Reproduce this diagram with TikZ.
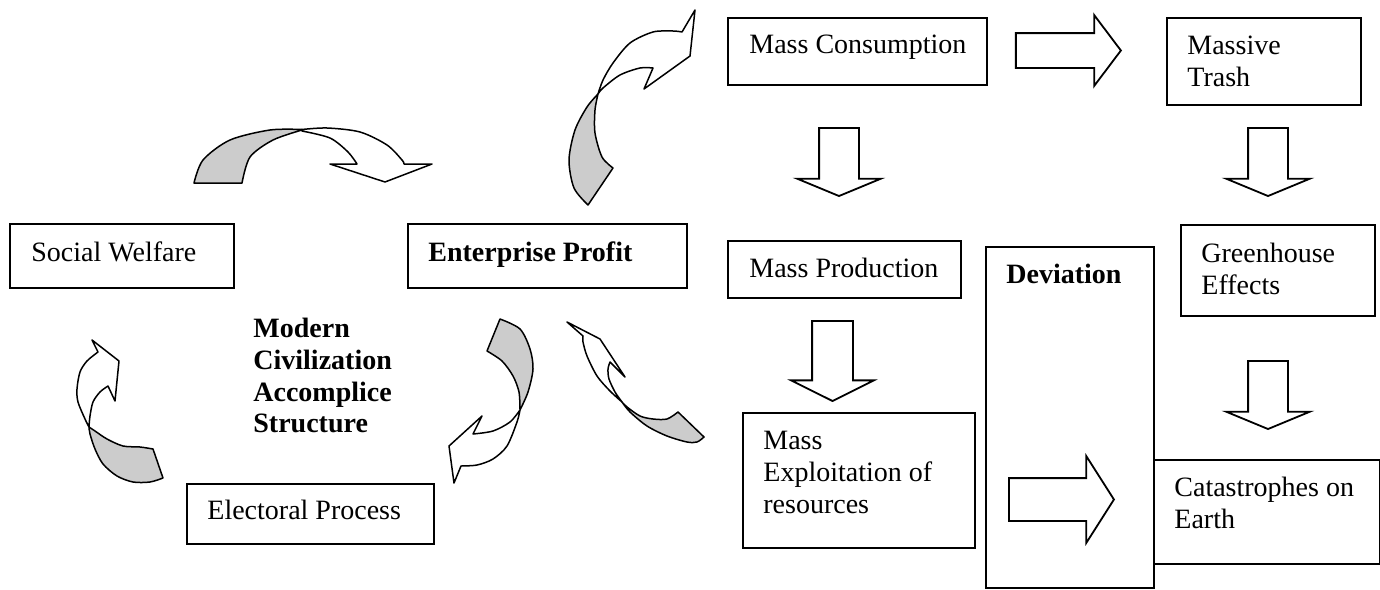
\documentclass[tikz,border=0pt]{standalone}
\usepackage{fontspec}
\setmainfont{Liberation Serif}
\usetikzlibrary{shapes.arrows}

\definecolor{twistgray}{gray}{0.8}

\tikzset{
  box/.style={draw, line width=1pt, inner sep=0pt, anchor=north west},
  boxtext/.style={anchor=north west, inner sep=0pt, align=left, font=\fontsize{14}{15.85}\selectfont},
  blockarrow/.style={single arrow, draw, line width=0.9pt, fill=white, single arrow head indent=0pt, anchor=tip},
  band/.style={draw, line width=0.75pt, line join=round},
}

\begin{document}
\begin{tikzpicture}[x=0.5pt, y=-0.5pt]
    \useasboundingbox (0,0) rectangle (1380,589);

    % Left cycle
    \node[box, minimum width=112pt, minimum height=32pt] (welfare) at (9,223) {};
    \node[boxtext] (welfareT) at ([xshift=11pt, yshift=-9pt]welfare.north west) {Social Welfare};
    \node[box, minimum width=139.5pt, minimum height=32pt] (profit) at (407,223) {};
    \node[boxtext, font=\fontsize{14}{15.85}\selectfont\bfseries] (profitT) at ([xshift=10.5pt, yshift=-9pt]profit.north west) {Enterprise Profit};
    \node[box, minimum width=123.5pt, minimum height=30pt] (elect) at (186,483) {};
    \node[boxtext] (electT) at ([xshift=10.5pt, yshift=-8.5pt]elect.north west) {Electoral Process};

    % Cycle title
    \node[boxtext, font=\fontsize{14}{15.85}\selectfont\bfseries] (civ) at (253,318) {Modern\\Civilization\\Accomplice\\Structure};

    % Right chain
    \node[box, minimum width=129.5pt, minimum height=33.5pt] (cons) at (727,17) {};
    \node[boxtext] (consT) at ([xshift=11pt, yshift=-9pt]cons.north west) {Mass Consumption};
    \node[box, minimum width=97pt, minimum height=43.5pt] (trash) at (1166,17) {};
    \node[boxtext] (trashT) at ([xshift=10.5pt, yshift=-9.5pt]trash.north west) {Massive\\Trash};
    \node[box, minimum width=116.5pt, minimum height=28.5pt] (prod) at (727,240) {};
    \node[boxtext] (prodT) at ([xshift=11pt, yshift=-9pt]prod.north west) {Mass Production};
    \node[box, minimum width=116pt, minimum height=67.5pt] (expl) at (742,412) {};
    \node[boxtext] (explT) at ([xshift=10.5pt, yshift=-9.5pt]expl.north west) {Mass\\Exploitation of\\resources};
    \node[box, minimum width=84pt, minimum height=170.5pt] (dev) at (985,246) {};
    \node[boxtext, font=\fontsize{14}{15.85}\selectfont\bfseries] (devT) at ([xshift=10.5pt, yshift=-9pt]dev.north west) {Deviation};
    \node[box, minimum width=97pt, minimum height=45.5pt] (green) at (1180,224) {};
    \node[boxtext] (greenT) at ([xshift=10.5pt, yshift=-9.5pt]green.north west) {Greenhouse\\Effects};
    \node[box, minimum width=113pt, minimum height=52pt] (cat) at (1153,459) {};
    \node[boxtext] (catT) at ([xshift=10.5pt, yshift=-9pt]cat.north west) {Catastrophes on\\Earth};

    % Block arrows (placed by their tips)
    \node[blockarrow, minimum height=52.5pt, inner sep=8.25pt, single arrow head extend=9pt, single arrow tip angle=106] (consright) at (1122,50.5) {};
    \node[blockarrow, shape border rotate=270, minimum height=34pt, inner sep=9.5pt, single arrow head extend=11pt, single arrow tip angle=135] (consdown) at (839,197) {};
    \node[blockarrow, shape border rotate=270, minimum height=34pt, inner sep=9.5pt, single arrow head extend=11pt, single arrow tip angle=135] (trashdown) at (1268,197) {};
    \node[blockarrow, shape border rotate=270, minimum height=40pt, inner sep=9.75pt, single arrow head extend=10.5pt, single arrow tip angle=127] (proddown) at (832.5,402) {};
    \node[blockarrow, shape border rotate=270, minimum height=34pt, inner sep=9.5pt, single arrow head extend=11pt, single arrow tip angle=135] (greendown) at (1268,430) {};
    \node[blockarrow, minimum height=52.5pt, inner sep=10.25pt, single arrow head extend=11pt, single arrow tip angle=115] (devright) at (1115,499.5) {};

    % Curved arrow over the top
    \filldraw[band, fill=twistgray] plot[smooth] coordinates {(194,183) (203,160) (230,140) (270,130) (302,129.5)} -- plot[smooth] coordinates {(302,130) (273,140) (250,157) (242,183)} -- cycle;
    \filldraw[band, fill=white] plot[smooth] coordinates {(302,129.5) (327,128) (360,132) (387,145) (402,160) (404,164)} -- (432,164) -- (385,182) -- (330,164) -- plot[smooth] coordinates {(357,164) (348,152) (330,138) (302,131)} -- cycle;

    % Curved arrow up to consumption
    \filldraw[band, fill=twistgray] plot[smooth] coordinates {(588,205) (574,188) (569,160) (575,130) (587,107) (598,94)} -- plot[smooth] coordinates {(598,94) (595,110) (595,133) (602,157) (613,168)} -- cycle;
    \filldraw[band, fill=white] plot[smooth] coordinates {(598,94) (603,80) (613,63) (630,43) (653,32) (673,31) (682,32)} -- (695,10) -- (690,56) -- (644,89) -- plot[smooth] coordinates {(653,68) (640,68) (620,75) (603,88) (598,94)} -- cycle;

    % Curved arrow down to electoral process
    \filldraw[band, fill=twistgray] (500,319) -- plot[smooth] coordinates {(487,351) (502,361) (513,376) (519,392) (520,410)} -- plot[smooth] coordinates {(520,410) (528,392) (533,369) (530,349) (520,329) (500,319)} -- cycle;
    \filldraw[band, fill=white] plot[smooth] coordinates {(520,410) (517,422) (507,446) (493,459) (477,465) (461,466)} -- (454,483) -- (449,446) -- (482,416) -- plot[smooth] coordinates {(473,434) (493,431) (510,422) (520,410)} -- cycle;

    % Curved arrow back to profit
    \filldraw[band, fill=twistgray] (678,412) -- plot[smooth] coordinates {(704,437) (697,442) (687,442) (667,436) (647,426) (630,412) (622,402)} -- plot[smooth] coordinates {(622,402) (627,407) (640,416) (653,419) (667,419) (678,412)} -- cycle;
    \filldraw[band, fill=white] plot[smooth] coordinates {(622,402) (610,391) (597,376) (587,356) (583,342) (583,336)} -- (567,322) -- (600,339) -- (625,377) -- plot[smooth] coordinates {(610,362) (608,369) (609,379) (615,392) (622,402)} -- cycle;

    % Curved arrow up to welfare
    \filldraw[band, fill=twistgray] (153,449) -- plot[smooth] coordinates {(163,478) (150,482) (133,482) (117,476) (103,464) (95,449) (90,434) (89,427)} -- plot[smooth] coordinates {(89,427) (95,431) (107,439) (123,446) (140,447) (153,449)} -- cycle;
    \filldraw[band, fill=white] plot[smooth] coordinates {(89,427) (85,419) (78,402) (77,389) (80,372) (87,361) (98,352)} -- (92,340) -- (119,361) -- (115,401) -- plot[smooth] coordinates {(108,386) (100,392) (93,402) (90,416) (89,427)} -- cycle;
\end{tikzpicture}
\end{document}
